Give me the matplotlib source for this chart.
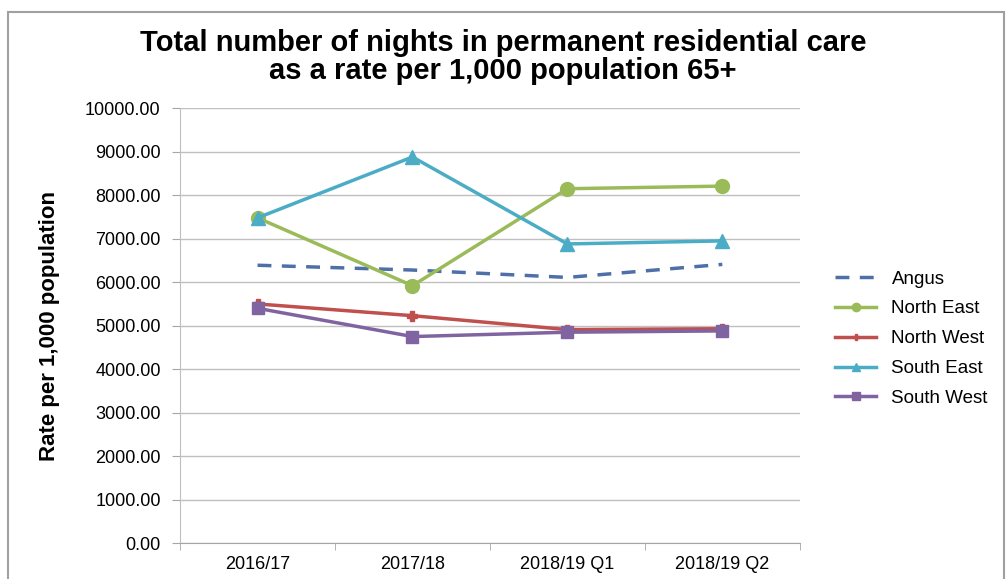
import matplotlib.pyplot as plt
from matplotlib.ticker import FormatStrFormatter, FixedLocator
from matplotlib.patches import Rectangle

plt.rcParams["font.family"] = ["Liberation Sans", "DejaVu Sans"]

periods = ["2016/17", "2017/18", "2018/19 Q1", "2018/19 Q2"]
angus = [6390, 6280, 6110, 6410]
north_east = [7480, 5920, 8150, 8210]
north_west = [5500, 5230, 4910, 4930]
south_east = [7480, 8880, 6880, 6950]
south_west = [5400, 4750, 4850, 4880]

fig = plt.figure(figsize=(10.06, 5.79), dpi=100)
ax = fig.add_axes([0.179, 0.062, 0.616, 0.751])

x = range(len(periods))
ax.plot(x, angus, color="#4F6FA8", lw=2.5, ls=(0, (4, 3)), label="Angus")
ax.plot(x, north_east, color="#9BBB59", lw=2.5, marker="o", ms=10, label="North East")
ax.plot(x, north_west, color="#C0504D", lw=2.5, marker="P", ms=7, label="North West")
ax.plot(x, south_east, color="#4BACC6", lw=2.5, marker="^", ms=10, label="South East")
ax.plot(x, south_west, color="#8064A2", lw=2.5, marker="s", ms=9, label="South West")

ax.set_xlim(-0.5, 3.5)
ax.set_ylim(0, 10000)
ax.set_yticks(range(0, 10001, 1000))
ax.yaxis.set_major_formatter(FormatStrFormatter("%.2f"))
ax.set_xticks(list(x))
ax.set_xticklabels(periods)
# category boundary ticks on the x axis
ax.xaxis.set_minor_locator(FixedLocator([-0.5, 0.5, 1.5, 2.5, 3.5]))
ax.tick_params(axis="x", which="major", length=0, pad=9, labelsize=13)
ax.tick_params(axis="x", which="minor", length=5, direction="out", color="#A6A6A6")
ax.tick_params(axis="y", length=6, direction="out", color="#A6A6A6", pad=8, labelsize=13)
ax.grid(True, axis="y", color="#C0C0C0", lw=1)
ax.set_axisbelow(True)
for s in ["top", "right"]:
    ax.spines[s].set_visible(False)
ax.spines["left"].set_color("#BFBFBF")
ax.spines["bottom"].set_color("#A6A6A6")

ax.set_ylabel("Rate per 1,000 population", fontsize=16, fontweight="bold", labelpad=18)
fig.suptitle("Total number of nights in permanent residential care\nas a rate per 1,000 population 65+",
             x=0.5, y=0.95, fontsize=21, fontweight="bold", linespacing=1.0)

leg = ax.legend(loc="center left", bbox_to_anchor=(1.03, 0.47), frameon=False,
                fontsize=13.5, handlelength=2.2, labelspacing=0.68, markerscale=0.6)

fig.patches.append(Rectangle((0.008, -0.02), 0.99, 1.0, transform=fig.transFigure,
                             fill=False, edgecolor="#A0A0A0", lw=1.5))

fig.savefig("out.png", dpi=100)
